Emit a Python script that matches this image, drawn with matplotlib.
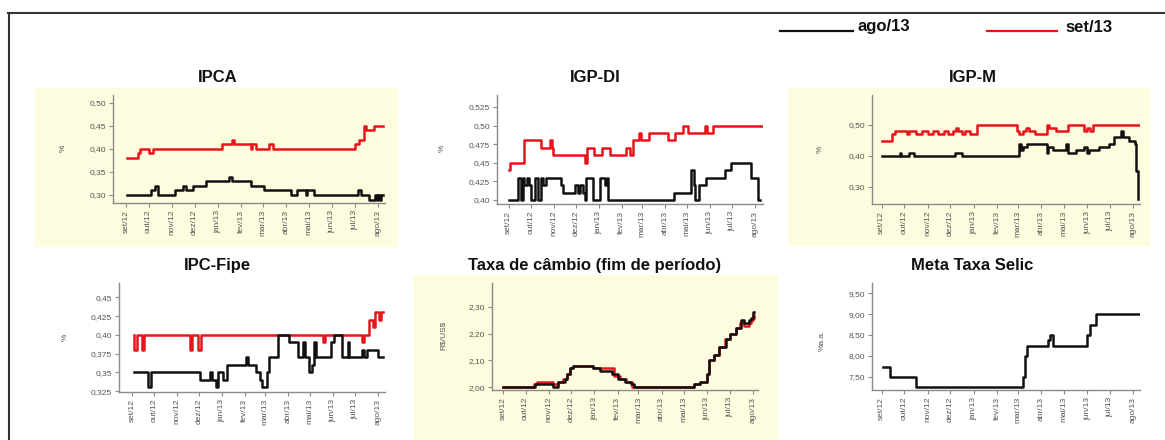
import numpy as np
import pandas as pd
import matplotlib
matplotlib.use('Agg')
import matplotlib.pyplot as plt
from matplotlib.patches import Rectangle
from matplotlib.lines import Line2D
from matplotlib.ticker import FuncFormatter

plt.rcParams['font.family'] = ['Liberation Sans', 'DejaVu Sans']

W, H = 1165, 440

# month ticks (sep/12 .. ago/13)
month_labels = ['set/12', 'out/12', 'nov/12', 'dez/12', 'jan/13', 'fev/13',
                'mar/13', 'abr/13', 'mai/13', 'jun/13', 'jul/13', 'ago/13']
month_starts = ['2012-09-01', '2012-10-01', '2012-11-01', '2012-12-01', '2013-01-01', '2013-02-01',
                '2013-03-01', '2013-04-01', '2013-05-01', '2013-06-01', '2013-07-01', '2013-08-01']

legend_labels = ['ago/13', 'set/13']

# ---- IPCA ----
ipca_ago_x = ['2012-09-03', '2012-10-04', '2012-10-10', '2012-10-14', '2012-11-05', '2012-11-16',
              '2012-11-20', '2012-11-29', '2012-12-16', '2013-01-15', '2013-01-20', '2013-02-13',
              '2013-03-03', '2013-04-08', '2013-04-16', '2013-04-27', '2013-04-29', '2013-05-08',
              '2013-07-05', '2013-07-09', '2013-07-20', '2013-07-28', '2013-07-30', '2013-08-01',
              '2013-08-03', '2013-08-05', '2013-08-08']
ipca_ago_y = [0.30, 0.31, 0.32, 0.30, 0.31, 0.32, 0.31, 0.32, 0.33, 0.34, 0.33, 0.32,
              0.31, 0.30, 0.31, 0.30, 0.31, 0.30, 0.31, 0.30, 0.29, 0.30, 0.29, 0.30,
              0.29, 0.30, 0.30]
ipca_set_x = ['2012-09-03', '2012-09-17', '2012-09-20', '2012-10-01', '2012-10-07', '2013-01-06',
              '2013-01-19', '2013-01-22', '2013-02-13', '2013-02-15', '2013-02-20', '2013-03-10',
              '2013-03-15', '2013-07-01', '2013-07-07', '2013-07-13', '2013-07-16', '2013-07-26',
              '2013-08-08']
ipca_set_y = [0.38, 0.39, 0.40, 0.39, 0.40, 0.41, 0.42, 0.41, 0.40, 0.41, 0.40, 0.41,
              0.40, 0.41, 0.42, 0.45, 0.44, 0.45, 0.45]

# ---- IGP-DI ----
igpdi_ago_x = ['2012-09-01', '2012-09-13', '2012-09-18', '2012-09-20', '2012-09-22', '2012-09-26',
               '2012-09-28', '2012-10-01', '2012-10-06', '2012-10-10', '2012-10-15', '2012-10-17',
               '2012-10-21', '2012-11-11', '2012-11-14', '2012-11-30', '2012-12-04', '2012-12-06',
               '2012-12-11', '2012-12-13', '2012-12-15', '2012-12-24', '2013-01-03', '2013-01-10',
               '2013-01-12', '2013-01-14', '2013-04-13', '2013-05-06', '2013-05-10', '2013-05-12',
               '2013-05-17', '2013-05-26', '2013-06-21', '2013-06-29', '2013-07-27', '2013-08-05',
               '2013-08-08']
igpdi_ago_y = [0.40, 0.43, 0.40, 0.43, 0.42, 0.43, 0.42, 0.40, 0.43, 0.40, 0.43, 0.42,
               0.43, 0.42, 0.41, 0.42, 0.41, 0.42, 0.41, 0.40, 0.43, 0.40, 0.43, 0.42,
               0.43, 0.40, 0.41, 0.44, 0.42, 0.40, 0.42, 0.43, 0.44, 0.45, 0.43, 0.40,
               0.40]
igpdi_set_x = ['2012-09-01', '2012-09-03', '2012-09-21', '2012-10-15', '2012-10-27', '2012-10-30',
               '2012-10-31', '2012-12-13', '2012-12-16', '2012-12-26', '2013-01-05', '2013-01-16',
               '2013-02-07', '2013-02-12', '2013-02-16', '2013-02-25', '2013-02-27', '2013-03-10',
               '2013-04-05', '2013-04-14', '2013-04-25', '2013-05-02', '2013-05-25', '2013-05-28',
               '2013-06-05', '2013-08-10']
igpdi_set_y = [0.44, 0.45, 0.48, 0.47, 0.48, 0.47, 0.46, 0.45, 0.47, 0.46, 0.47, 0.46,
               0.47, 0.46, 0.48, 0.49, 0.48, 0.49, 0.48, 0.49, 0.50, 0.49, 0.50, 0.49,
               0.50, 0.50]

# ---- IGP-M ----
igpm_ago_x = ['2012-09-01', '2012-09-25', '2012-09-26', '2012-10-07', '2012-10-14', '2012-12-07',
              '2012-12-17', '2013-03-02', '2013-03-05', '2013-03-07', '2013-03-13', '2013-04-08',
              '2013-04-10', '2013-04-16', '2013-05-04', '2013-05-06', '2013-05-17', '2013-05-27',
              '2013-06-01', '2013-06-03', '2013-06-17', '2013-06-30', '2013-07-07', '2013-07-16',
              '2013-07-18', '2013-07-27', '2013-08-03', '2013-08-05', '2013-08-07', '2013-08-08']
igpm_ago_y = [0.40, 0.41, 0.40, 0.41, 0.40, 0.41, 0.40, 0.44, 0.42, 0.43, 0.44, 0.41,
              0.43, 0.42, 0.44, 0.41, 0.42, 0.43, 0.41, 0.42, 0.43, 0.44, 0.46, 0.48,
              0.46, 0.45, 0.44, 0.35, 0.26, 0.26]
igpm_set_x = ['2012-09-01', '2012-09-14', '2012-09-18', '2012-10-04', '2012-10-07', '2012-10-17',
              '2012-10-24', '2012-11-02', '2012-11-08', '2012-11-15', '2012-11-22', '2012-11-28',
              '2012-12-04', '2012-12-08', '2012-12-11', '2012-12-16', '2012-12-20', '2012-12-27',
              '2013-01-05', '2013-02-28', '2013-03-02', '2013-03-07', '2013-03-11', '2013-03-16',
              '2013-03-23', '2013-04-08', '2013-04-11', '2013-04-20', '2013-05-06', '2013-05-28',
              '2013-06-01', '2013-06-04', '2013-06-09', '2013-08-10']
igpm_set_y = [0.45, 0.47, 0.48, 0.47, 0.48, 0.47, 0.48, 0.47, 0.48, 0.47, 0.48, 0.47,
              0.48, 0.49, 0.48, 0.47, 0.48, 0.47, 0.50, 0.48, 0.47, 0.48, 0.49, 0.48,
              0.47, 0.50, 0.49, 0.48, 0.50, 0.48, 0.49, 0.48, 0.50, 0.50]

# ---- IPC-Fipe ----
fipe_ago_x = ['2012-09-03', '2012-09-23', '2012-09-27', '2012-12-02', '2012-12-16', '2012-12-18',
              '2012-12-24', '2012-12-27', '2013-01-03', '2013-01-08', '2013-02-03', '2013-02-05',
              '2013-02-17', '2013-02-22', '2013-02-25', '2013-03-03', '2013-03-06', '2013-03-18',
              '2013-04-03', '2013-04-14', '2013-04-22', '2013-04-24', '2013-04-30', '2013-05-04',
              '2013-05-06', '2013-05-09', '2013-05-29', '2013-06-03', '2013-06-14', '2013-06-21',
              '2013-06-23', '2013-07-11', '2013-07-14', '2013-07-17', '2013-08-01', '2013-08-08']
fipe_ago_y = [0.35, 0.33, 0.35, 0.34, 0.35, 0.34, 0.33, 0.35, 0.34, 0.36, 0.37, 0.36,
              0.35, 0.34, 0.33, 0.35, 0.37, 0.40, 0.39, 0.37, 0.39, 0.37, 0.35, 0.36,
              0.39, 0.37, 0.39, 0.40, 0.37, 0.39, 0.37, 0.38, 0.37, 0.38, 0.37, 0.37]
fipe_set_x = ['2012-09-03', '2012-09-04', '2012-09-07', '2012-09-14', '2012-09-17', '2012-11-18',
              '2012-11-21', '2012-11-30', '2012-12-03', '2013-05-18', '2013-05-21', '2013-07-11',
              '2013-07-14', '2013-07-20', '2013-07-26', '2013-07-29', '2013-08-03', '2013-08-05',
              '2013-08-08']
fipe_set_y = [0.40, 0.38, 0.40, 0.38, 0.40, 0.38, 0.40, 0.38, 0.40, 0.39, 0.40, 0.39,
              0.40, 0.42, 0.41, 0.43, 0.42, 0.43, 0.43]

# ---- Taxa de cambio ----
cambio_ago_x = ['2012-09-01', '2012-10-14', '2012-11-07', '2012-11-13', '2012-11-23', '2012-11-26',
                '2012-11-29', '2012-12-04', '2012-12-30', '2013-01-08', '2013-01-24', '2013-02-02',
                '2013-02-11', '2013-02-19', '2013-02-23', '2013-05-14', '2013-05-23', '2013-06-01',
                '2013-06-03', '2013-06-10', '2013-06-17', '2013-06-26', '2013-07-02', '2013-07-09',
                '2013-07-16', '2013-07-20', '2013-07-27', '2013-07-29', '2013-08-01', '2013-08-03']
cambio_ago_y = [2.00, 2.01, 2.00, 2.02, 2.03, 2.05, 2.07, 2.08, 2.07, 2.06, 2.05, 2.03,
                2.02, 2.01, 2.00, 2.01, 2.02, 2.05, 2.10, 2.12, 2.15, 2.18, 2.20, 2.22,
                2.25, 2.24, 2.25, 2.26, 2.28, 2.28]
cambio_set_x = ['2012-09-01', '2012-10-12', '2012-10-16', '2012-11-07', '2012-11-13', '2012-11-20',
                '2012-11-26', '2012-11-29', '2012-12-04', '2012-12-30', '2013-01-27', '2013-02-04',
                '2013-02-13', '2013-02-21', '2013-05-14', '2013-05-23', '2013-06-01', '2013-06-03',
                '2013-06-10', '2013-06-17', '2013-06-25', '2013-07-01', '2013-07-09', '2013-07-15',
                '2013-07-20', '2013-07-27', '2013-07-30', '2013-08-01', '2013-08-03']
cambio_set_y = [2.00, 2.01, 2.02, 2.01, 2.02, 2.03, 2.05, 2.07, 2.08, 2.07, 2.04, 2.03,
                2.02, 2.00, 2.01, 2.02, 2.05, 2.10, 2.12, 2.15, 2.18, 2.20, 2.22, 2.24,
                2.23, 2.24, 2.25, 2.27, 2.26]

# ---- Meta Selic (only ago/13 drawn) ----
selic_ago_x = ['2012-09-03', '2012-09-12', '2012-10-17', '2013-03-08', '2013-03-10', '2013-03-13',
               '2013-04-10', '2013-04-12', '2013-04-17', '2013-05-31', '2013-06-05', '2013-06-13',
               '2013-08-10']
selic_ago_y = [7.75, 7.50, 7.25, 7.50, 8.00, 8.25, 8.38, 8.50, 8.25, 8.50, 8.75, 9.00, 9.00]

BLACK = '#111111'
RED = '#e8141c'
YELLOW = '#fefcdf'
GREY = '#8a8a8a'
TXT = '#555555'


def px_rect(x0, y0, x1, y1):
    # pixel box (origin top-left) -> figure fraction [l, b, w, h]
    return [x0 / W, 1 - y1 / H, (x1 - x0) / W, (y1 - y0) / H]


def fx(x):
    return x / W


def fy(y):
    return 1 - y / H


def comma_fmt(v, pos):
    s = ('%.3f' % v).rstrip('0')
    if len(s.split('.')[1]) < 2:
        s = '%.2f' % v
    return s.replace('.', ',')


panels = [
    # title, ago data, set data, ylabel, yticks, ylim, axes box px, xlim, title pos, ylabel pos, yellow box
    ('IPCA', (ipca_ago_x, ipca_ago_y), (ipca_set_x, ipca_set_y), '%',
     [0.30, 0.35, 0.40, 0.45, 0.50], (0.2827, 0.5167), (113, 95, 385, 203),
     ('2012-08-15', '2013-08-10'), (218, 77), (63, 148), (35, 88, 398, 247)),
    ('IGP-DI', (igpdi_ago_x, igpdi_ago_y), (igpdi_set_x, igpdi_set_y), '%',
     [0.40, 0.425, 0.45, 0.475, 0.50, 0.525], (0.3946, 0.541), (497, 95, 763, 204),
     ('2012-08-16', '2013-08-12'), (595, 77), (442, 148), None),
    ('IGP-M', (igpm_ago_x, igpm_ago_y), (igpm_set_x, igpm_set_y), '%',
     [0.30, 0.40, 0.50], (0.245, 0.597), (872, 95, 1140, 204),
     ('2012-08-19', '2013-08-10'), (973, 77), (820, 149), (788, 88, 1150, 246)),
    ('IPC-Fipe', (fipe_ago_x, fipe_ago_y), (fipe_set_x, fipe_set_y), '%',
     [0.325, 0.35, 0.375, 0.40, 0.425, 0.45], (0.324, 0.469), (119, 283, 385, 392),
     ('2012-08-14', '2013-08-11'), (217, 265), (65, 337), None),
    ('Taxa de câmbio (fim de período)', (cambio_ago_x, cambio_ago_y), (cambio_set_x, cambio_set_y), r'R\$/US\$',
     [2.00, 2.10, 2.20, 2.30], (1.989, 2.39), (492, 283, 758, 390),
     ('2012-08-17', '2013-08-08'), (595, 265), (443, 335), (413, 275, 778, 440)),
    ('Meta Taxa Selic', (selic_ago_x, selic_ago_y), None, '%a.a.',
     [7.50, 8.00, 8.50, 9.00, 9.50], (7.19, 9.74), (872, 283, 1140, 390),
     ('2012-08-19', '2013-08-10'), (972, 265), (822, 340), None),
]

fig = plt.figure(figsize=(W / 100, H / 100), dpi=100)

tick_dates = pd.to_datetime(month_starts)

for title, ago, sett, ylab, yticks, ylim, box, xlim, tpos, lpos, ybox in panels:
    # light yellow background block behind some panels
    if ybox is not None:
        x0, y0, x1, y1 = ybox
        fig.patches.append(Rectangle((fx(x0), fy(y1)), (x1 - x0) / W, (y1 - y0) / H,
                                     transform=fig.transFigure, facecolor=YELLOW,
                                     edgecolor='none', zorder=-5))

    ax = fig.add_axes(px_rect(*box))
    ax.set_zorder(2)
    ax.patch.set_alpha(0)
    if sett is not None:
        ax.plot(pd.to_datetime(sett[0]), sett[1], color=RED, lw=1.8, drawstyle='steps-post')
    ax.plot(pd.to_datetime(ago[0]), ago[1], color=BLACK, lw=1.8, drawstyle='steps-post')

    ax.set_xlim(pd.Timestamp(xlim[0]), pd.Timestamp(xlim[1]))
    ax.set_ylim(*ylim)
    ax.set_xticks(tick_dates)
    ax.set_xticklabels(month_labels, rotation=90)
    ax.set_yticks(yticks)
    ax.yaxis.set_major_formatter(FuncFormatter(comma_fmt))

    for side in ['top', 'right']:
        ax.spines[side].set_visible(False)
    for side in ['left', 'bottom']:
        ax.spines[side].set_color(GREY)
        ax.spines[side].set_linewidth(1.0)
    ax.tick_params(axis='both', colors=GREY, labelcolor=TXT, labelsize=6,
                   length=3, width=0.8, pad=2)

    fig.text(fx(tpos[0]), fy(tpos[1]), title, ha='center', va='center',
             fontsize=12, fontweight='bold', color='#111111')
    fig.text(fx(lpos[0]), fy(lpos[1]), ylab, ha='center', va='center',
             rotation=90, fontsize=6, color=TXT)

# legend at top right
fig.lines.append(Line2D([fx(780), fx(853)], [fy(31), fy(31)], transform=fig.transFigure,
                        color=BLACK, lw=1.6))
fig.text(fx(857), fy(27), legend_labels[0], ha='left', va='center',
         fontsize=12, fontweight='bold', color='#111111')
fig.lines.append(Line2D([fx(987), fx(1057)], [fy(31), fy(31)], transform=fig.transFigure,
                        color=RED, lw=1.6))
fig.text(fx(1065), fy(27), legend_labels[1], ha='left', va='center',
         fontsize=12, fontweight='bold', color='#111111')

# outer frame (top and left edges)
fig.lines.append(Line2D([fx(8), fx(1165)], [fy(13), fy(13)], transform=fig.transFigure,
                        color='#333333', lw=1.5))
fig.lines.append(Line2D([fx(9), fx(9)], [fy(13), fy(440)], transform=fig.transFigure,
                        color='#333333', lw=1.5))

fig.savefig('out.png', dpi=100)
